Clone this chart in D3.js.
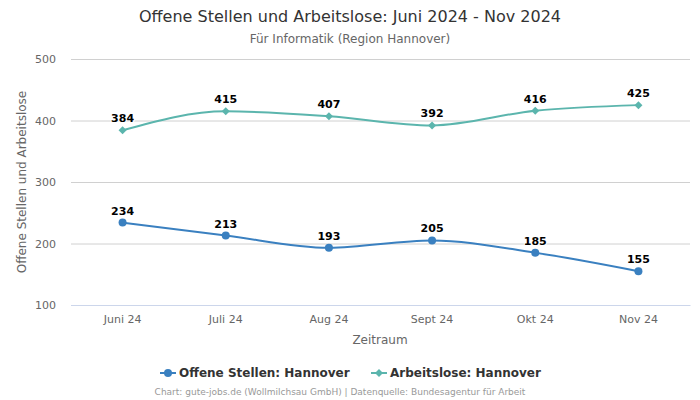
<!DOCTYPE html>
<html><head><meta charset="utf-8">
<script src="https://cdn.jsdelivr.net/npm/d3@7"></script>
<style>body{margin:0;background:#fff;font-family:"DejaVu Sans",sans-serif}</style>
</head><body><svg id="c" width="700" height="400"></svg>
<script>
const categories = ["Juni 24","Juli 24","Aug 24","Sept 24","Okt 24","Nov 24"];
const offeneStellen = [234,213,193,205,185,155];
const arbeitslose = [384,415,407,392,416,425];
const yTicks = [100,200,300,400,500];
const seriesNames = ["Offene Stellen: Hannover","Arbeitslose: Hannover"];
const colors = ["#3a80c0","#5bb5ad"];

const svg = d3.select("#c");
const L=71,R=690,T=59,B=305;
const x = d3.scaleBand().domain(categories).range([L,R]);
const y = d3.scaleLinear().domain([100,500]).range([B,T]);
const cx = d => x(d)+x.bandwidth()/2;
const diamond = "M0,-4L4,0L0,4L-4,0Z";

svg.append("text").attr("x",350).attr("y",22).attr("text-anchor","middle")
 .attr("font-size",16).attr("fill","#333").text("Offene Stellen und Arbeitslose: Juni 2024 - Nov 2024");
svg.append("text").attr("x",350).attr("y",43).attr("text-anchor","middle")
 .attr("font-size",12).attr("fill","#666").text("Für Informatik (Region Hannover)");

const gy = svg.append("g").attr("transform",`translate(${L},0)`)
 .call(d3.axisLeft(y).tickValues(yTicks).tickSize(-(R-L)).tickPadding(15));
gy.select(".domain").remove();
gy.selectAll("line").attr("stroke","#d0d0d0");
gy.selectAll("text").attr("font-size",11).attr("fill","#666").attr("font-family","DejaVu Sans");
gy.selectAll(".tick").filter(d=>d===100).select("line").attr("stroke","#ccd6eb");

const gx = svg.append("g").attr("transform",`translate(0,${B})`)
 .call(d3.axisBottom(x).tickSize(0).tickPadding(10));
gx.select(".domain").attr("stroke","#ccd6eb");
gx.selectAll("text").attr("font-size",11).attr("fill","#666").attr("font-family","DejaVu Sans");

svg.append("text").attr("x",380).attr("y",344).attr("text-anchor","middle")
 .attr("font-size",12).attr("fill","#666").text("Zeitraum");
svg.append("text").attr("transform","translate(26,182) rotate(-90)").attr("text-anchor","middle")
 .attr("font-size",12).attr("fill","#666").text("Offene Stellen und Arbeitslose");

const line = d3.line().x((d,i)=>cx(categories[i])).y(d=>y(d)).curve(d3.curveMonotoneX);
[offeneStellen, arbeitslose].forEach((s,k)=>{
  svg.append("path").attr("d",line(s)).attr("fill","none").attr("stroke",colors[k]).attr("stroke-width",2);
  const g = svg.append("g");
  s.forEach((v,i)=>{
    const px=cx(categories[i]), py=y(v);
    if(k===0) g.append("circle").attr("cx",px).attr("cy",py).attr("r",4).attr("fill",colors[k]);
    else g.append("path").attr("d",diamond).attr("transform",`translate(${px},${py})`).attr("fill",colors[k]);
    g.append("text").attr("x",px).attr("y",py-8).attr("text-anchor","middle")
     .attr("font-size",11).attr("font-weight","bold").attr("fill","#000")
     .attr("stroke","#fff").attr("stroke-width",2).attr("paint-order","stroke").text(v);
  });
});

// legend
const lg = svg.append("g");
const items = [{x:160,k:0},{x:371,k:1}];
items.forEach(it=>{
  lg.append("line").attr("x1",it.x).attr("x2",it.x+16).attr("y1",373).attr("y2",373).attr("stroke",colors[it.k]).attr("stroke-width",2);
  if(it.k===0) lg.append("circle").attr("cx",it.x+8).attr("cy",373).attr("r",4).attr("fill",colors[0]);
  else lg.append("path").attr("d",diamond).attr("transform",`translate(${it.x+8},373)`).attr("fill",colors[1]);
  lg.append("text").attr("x",it.x+19).attr("y",377).attr("font-size",12).attr("font-weight","bold").attr("fill","#333").text(seriesNames[it.k]);
});
svg.append("text").attr("x",340).attr("y",395).attr("text-anchor","middle").attr("font-size",9).attr("fill","#999")
 .text("Chart: gute-jobs.de (Wollmilchsau GmbH) | Datenquelle: Bundesagentur für Arbeit");
</script></body></html>
